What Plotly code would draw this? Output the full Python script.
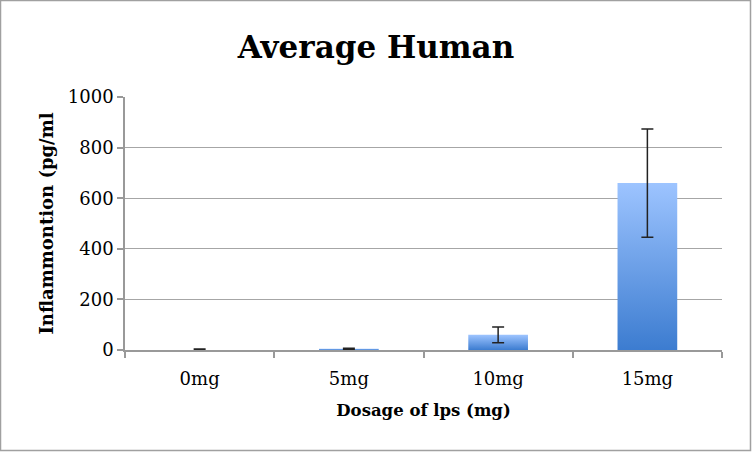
import plotly.graph_objects as go

categories = ["0mg", "5mg", "10mg", "15mg"]
means = [2, 5, 60, 660]
errors = [2, 2, 31, 214]

BAR_W = 0.4
fig = go.Figure()
for i, (c, m) in enumerate(zip(categories, means)):
    x0, x1 = i - BAR_W / 2, i + BAR_W / 2
    fig.add_trace(go.Scatter(
        x=[x0, x1, x1, x0, x0], y=[0, 0, m, m, 0],
        mode="lines", line=dict(width=0), fill="toself",
        fillgradient=dict(type="vertical",
                          colorscale=[[0, "#3c7cd0"], [1, "#9dc4ff"]]),
        hoverinfo="skip", showlegend=False))

fig.add_trace(go.Scatter(
    x=list(range(len(categories))), y=means, mode="markers",
    marker=dict(size=1, color="rgba(0,0,0,0)"),
    error_y=dict(type="data", array=errors, visible=True,
                 color="#222222", thickness=1.5, width=6),
    showlegend=False))

font = "DejaVu Serif"
fig.update_layout(
    width=752, height=452,
    margin=dict(l=125, r=30, t=97, b=102),
    paper_bgcolor="white", plot_bgcolor="white",
    font=dict(family=font, color="black", size=16),
    title=dict(text="<b>Average Human</b>", x=0.5, xanchor="center",
               y=0.895, yanchor="middle", font=dict(size=31, family=font)),
    xaxis=dict(range=[-0.5, 3.5], tickvals=list(range(len(categories))),
               ticktext=categories, ticks="", showgrid=False, zeroline=False,
               showline=True, linecolor="#999999", linewidth=1.5,
               tickfont=dict(size=18), ticklabelstandoff=12,
               minor=dict(tickvals=[-0.5, 0.5, 1.5, 2.5, 3.5], ticks="outside",
                          ticklen=6, tickcolor="#999999", tickwidth=1.5, showgrid=False),
               title=dict(text="<b>Dosage of lps (mg)</b>", font=dict(size=16.5), standoff=16)),
    yaxis=dict(range=[0, 1000], dtick=200, ticks="outside", ticklen=6,
               tickcolor="#999999", tickwidth=1.5,
               showgrid=True, gridcolor="#a6a6a6", gridwidth=1.2,
               showline=True, linecolor="#999999", linewidth=1.5, zeroline=False,
               tickfont=dict(size=18),
               title=dict(text="<b>Inflammontion (pg/ml</b>", font=dict(size=18), standoff=10)),
    shapes=[dict(type="rect", xref="paper", yref="paper",
                 x0=-124.5 / 597, x1=625.5 / 597, y0=-100.5 / 253, y1=349.5 / 253,
                 line=dict(color="#a0a0a0", width=1.5))],
)

fig.write_html("out.html", config={"displayModeBar": False},
               post_script="document.body.style.margin='0';document.body.style.padding='0';")
